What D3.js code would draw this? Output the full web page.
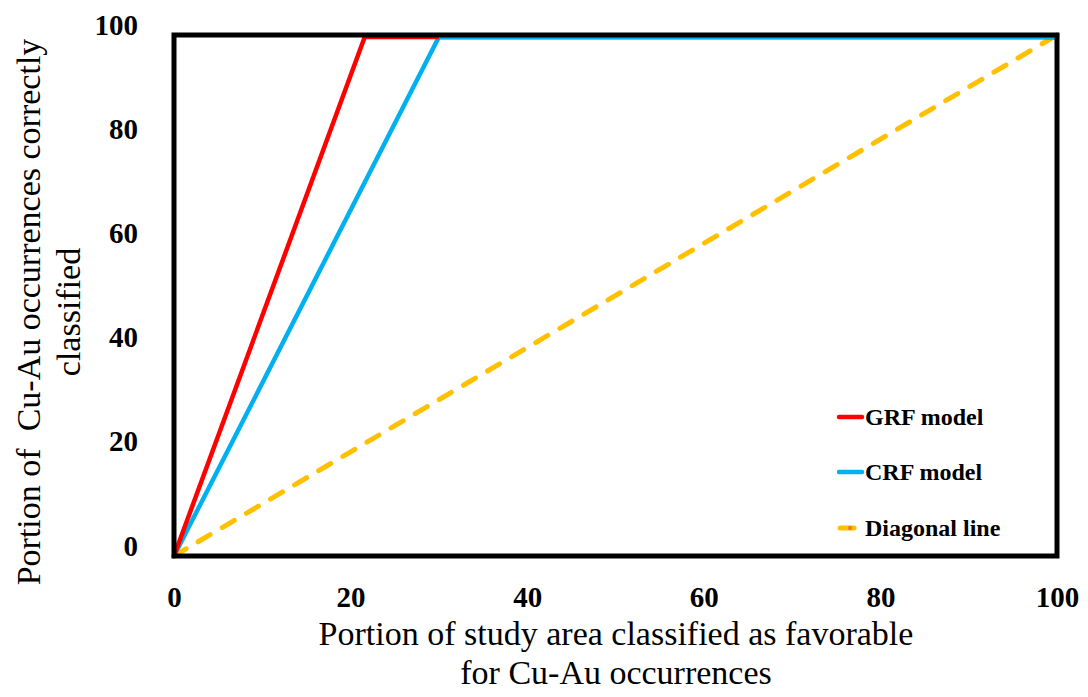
<!DOCTYPE html>
<html>
<head>
<meta charset="utf-8">
<script src="https://cdn.jsdelivr.net/npm/d3@7/dist/d3.min.js"></script>
<style>
  html, body { margin: 0; padding: 0; background: #fff; }
  svg { display: block; }
  text { font-family: "Liberation Serif", "Times New Roman", serif; fill: #000; }
</style>
</head>
<body>
<svg id="chart" width="1088" height="697"></svg>
<script>
// Success-rate curves: portion of area vs. portion of occurrences
const grfX = [0, 21.6, 100];
const grfY = [0, 99.6, 99.6];
const crfX = [0, 30, 100];
const crfY = [0, 99.6, 99.6];
const diagX = [0, 100];
const diagY = [0, 100];
const xTicks = [0, 20, 40, 60, 80, 100];
const yTicks = [0, 20, 40, 60, 80, 100];
const seriesNames = ["GRF model", "CRF model", "Diagonal line"];

const svg = d3.select("#chart");
const plotL = 174, plotR = 1057, plotT = 35, plotB = 556;

const x = d3.scaleLinear().domain([0, 100]).range([plotL, plotR]);
const y = d3.scaleLinear().domain([0, 100]).range([plotB, plotT]);

const line = d3.line().x(d => x(d[0])).y(d => y(d[1]));
const pts = (xs, ys) => xs.map((v, i) => [v, ys[i]]);

// Series
svg.append("path").datum(pts(diagX, diagY)).attr("d", line)
  .attr("fill", "none").attr("stroke", "#FFC000").attr("stroke-width", 5)
  .attr("stroke-linecap", "round").attr("stroke-dasharray", "14,14");
svg.selectAll(".diagDot").data(pts(diagX, diagY)).join("circle")
  .attr("cx", d => x(d[0])).attr("cy", d => y(d[1])).attr("r", 2.5)
  .attr("fill", "#ED7D31");

svg.append("path").datum(pts(crfX, crfY)).attr("d", line)
  .attr("fill", "none").attr("stroke", "#00B0F0").attr("stroke-width", 4.5)
  .attr("stroke-linejoin", "round").attr("stroke-linecap", "round");
svg.append("path").datum(pts(grfX, grfY)).attr("d", line)
  .attr("fill", "none").attr("stroke", "#FF0000").attr("stroke-width", 4.5)
  .attr("stroke-linejoin", "round").attr("stroke-linecap", "round");
// CRF overlays GRF along the plateau
svg.append("path").datum(pts(crfX.slice(1), crfY.slice(1))).attr("d", line)
  .attr("fill", "none").attr("stroke", "#00B0F0").attr("stroke-width", 4.5);

// Plot frame
svg.append("rect").attr("x", plotL).attr("y", plotT)
  .attr("width", plotR - plotL).attr("height", plotB - plotT)
  .attr("fill", "none").attr("stroke", "#000").attr("stroke-width", 5);

// Axes (labels only; frame acts as axis lines)
const xAxis = d3.axisBottom(x).tickValues(xTicks).tickSize(0).tickPadding(0);
const gx = svg.append("g").attr("transform", `translate(0,607)`).call(xAxis);
gx.select(".domain").remove();
gx.selectAll("text").attr("font-size", 29).attr("font-weight", "bold")
  .style("font-family", "'Liberation Serif', serif").attr("dy", 0);

const yAxis = d3.axisLeft(y).tickValues(yTicks).tickSize(0).tickPadding(0);
const gy = svg.append("g").attr("transform", `translate(138,-11)`).call(yAxis);
gy.select(".domain").remove();
gy.selectAll("text").attr("font-size", 29).attr("font-weight", "bold")
  .style("font-family", "'Liberation Serif', serif").attr("dy", "0.35em");

// Axis titles
const xt = svg.append("text").attr("text-anchor", "middle").attr("font-size", 34);
xt.append("tspan").attr("x", 616).attr("y", 645).text("Portion of study area classified as favorable");
xt.append("tspan").attr("x", 616).attr("y", 684).text("for Cu-Au occurrences");

const yt = svg.append("text").attr("text-anchor", "middle").attr("font-size", 34)
  .attr("transform", "translate(0,312) rotate(-90)");
yt.append("tspan").attr("x", 0).attr("y", 40).style("white-space", "pre")
  .text("Portion of  Cu-Au occurrences correctly");
yt.append("tspan").attr("x", 0).attr("y", 80).text("classified");

// Legend
const legY = [417, 472, 528];
const legColors = ["#FF0000", "#00B0F0", "#FFC000"];
const lg = svg.append("g");
seriesNames.forEach((name, i) => {
  if (i < 2) {
    lg.append("line").attr("x1", 839).attr("x2", 862).attr("y1", legY[i]).attr("y2", legY[i])
      .attr("stroke", legColors[i]).attr("stroke-width", 4.5).attr("stroke-linecap", "round");
  } else {
    lg.append("line").attr("x1", 840).attr("x2", 854).attr("y1", legY[i]).attr("y2", legY[i])
      .attr("stroke", legColors[i]).attr("stroke-width", 5).attr("stroke-linecap", "round");
    lg.append("circle").attr("cx", 850).attr("cy", legY[i]).attr("r", 2.2).attr("fill", "#ED7D31");
  }
  lg.append("text").attr("x", 865).attr("y", legY[i]).attr("dy", "0.35em")
    .attr("font-size", 24).attr("font-weight", "bold").text(name);
});
</script>
</body>
</html>
